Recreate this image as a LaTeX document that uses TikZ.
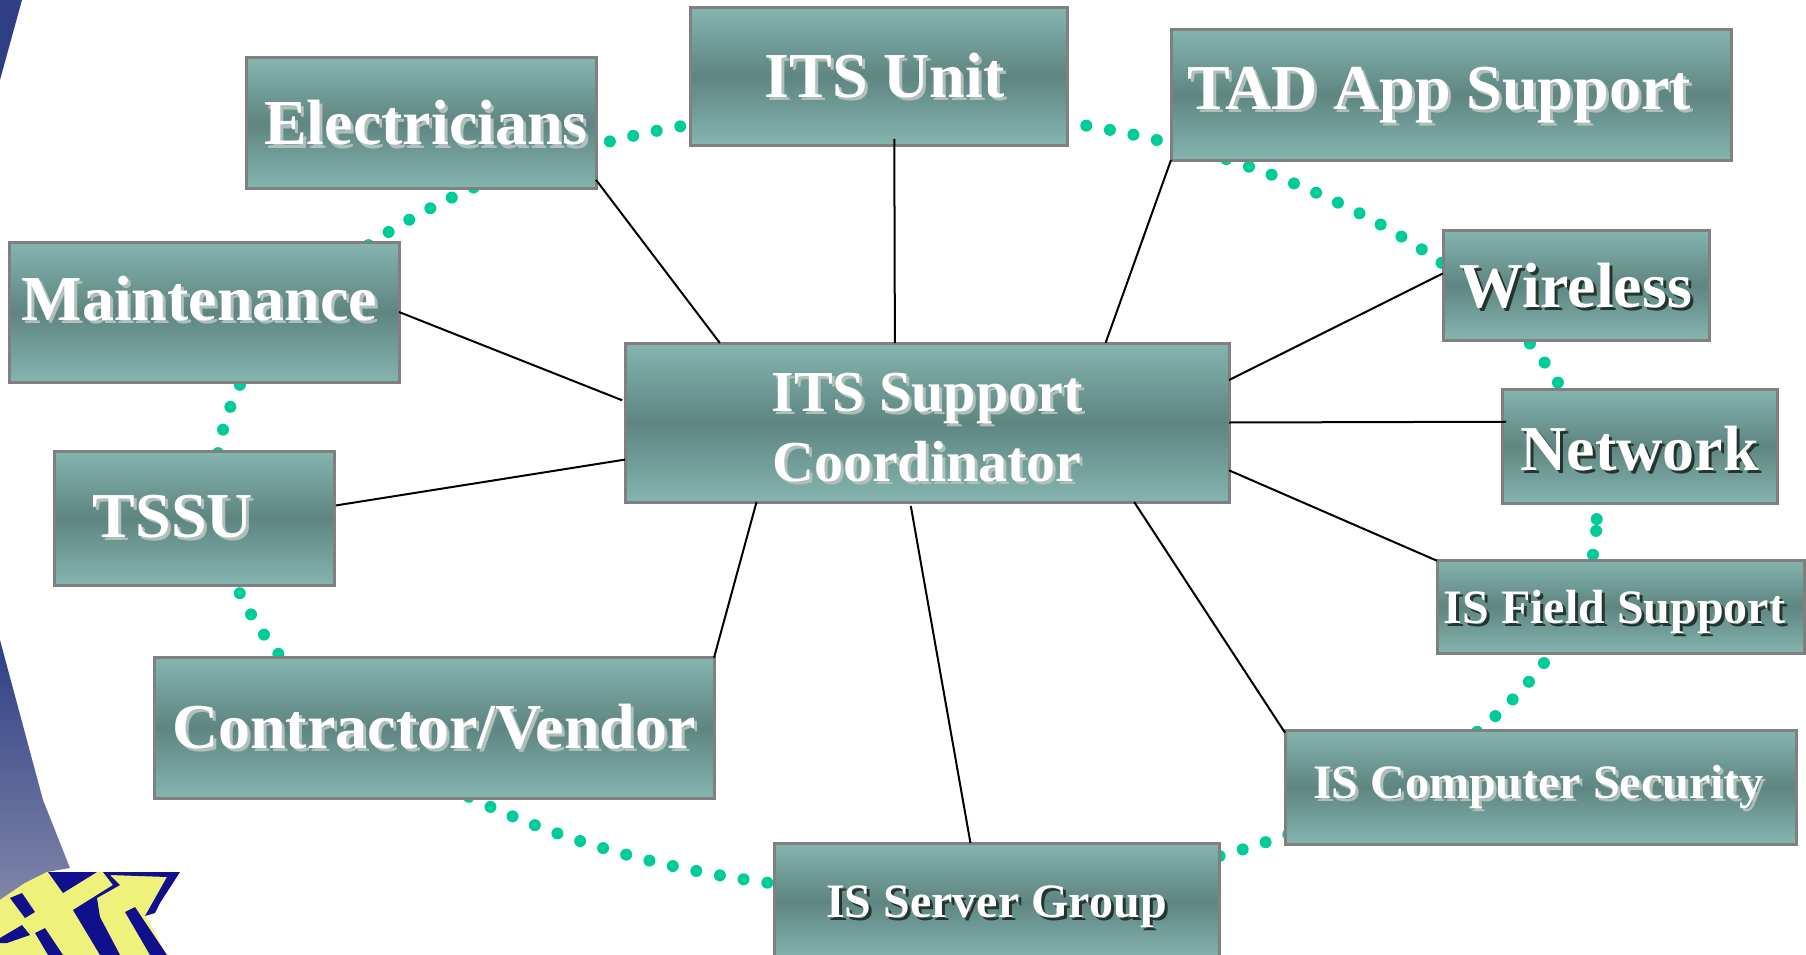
\documentclass[tikz,border=0pt]{standalone}
\usepackage{fontspec}
\setmainfont{Liberation Serif}
\usepackage{tikz}
\definecolor{boxlight}{HTML}{84B5AE}
\definecolor{boxdark}{HTML}{5F8581}
\definecolor{boxedge}{HTML}{808080}
\definecolor{ringgreen}{HTML}{00CC99}
\definecolor{swooshblue}{HTML}{2F3F85}
\definecolor{swooshmid}{HTML}{3F4D8F}
\definecolor{swooshgrey}{HTML}{7F86A8}
\definecolor{logoyellow}{HTML}{EFF27A}
\definecolor{logonavy}{HTML}{10108C}
\definecolor{shadowlight}{HTML}{AFC0BC}
\definecolor{shadowdark}{HTML}{24352F}
\newcommand{\shadowed}[2][shadowlight]{\leavevmode\rlap{\hspace{3pt}\raisebox{-3pt}{\textcolor{#1}{#2}}}#2}

\begin{document}
\begin{tikzpicture}[x=1pt,y=-1pt]
\tikzstyle{itsbox}=[rectangle, draw=boxedge, line width=3pt, outer sep=0pt, inner sep=0pt, top color=boxlight, bottom color=boxlight, middle color=boxdark, text=white, align=center]
\tikzstyle{bigtext}=[font=\fontsize{64}{70}\selectfont\bfseries]
\tikzstyle{midtext}=[font=\fontsize{58}{70}\selectfont\bfseries]
\tikzstyle{smalltext}=[font=\fontsize{48}{56}\selectfont\bfseries]
\tikzstyle{drop}=[text height=#1, text depth=0pt]
\tikzstyle{link}=[black, line width=2pt]
\tikzstyle{ring}=[ringgreen, line width=12pt, line cap=round, dash pattern=on 0pt off 24pt]
\tikzstyle{navy}=[fill=logonavy]
\useasboundingbox (0,0) rectangle (1806,955);

\fill[swooshblue] (0,0) -- (22,0) -- (0,80) -- cycle;
\shade[top color=swooshblue, middle color=swooshmid, bottom color=swooshgrey] (0,640) -- (43,800) -- (70,868) -- (47,872) -- (25,883) -- (0,900) -- cycle;
\fill[logoyellow] (0,900) -- (25,883) -- (47,872) -- (180,872) -- (145,915) -- (167,955) -- (0,955) -- cycle;
\fill[navy] (48,872) -- (97,872) -- (63,893) -- cycle;
\fill[navy] (103,872) -- (180,872) -- (160,903) -- (155,913) -- (145,916) -- (167,877) -- (110,875) -- (120,885) -- (97,898) -- (100,917) -- (120,955) -- (100,955) -- (73,910) -- (113,885) -- cycle;
\fill[navy] (125,912) -- (135,907) -- (167,955) -- (150,955) -- cycle;
\fill[navy] (10,898) -- (22,893) -- (35,912) -- (25,918) -- cycle;
\fill[navy] (0,938) -- (22,925) -- (30,935) -- (7,943) -- (0,943) -- cycle;
\fill[navy] (35,933) -- (45,928) -- (63,955) -- (48,955) -- cycle;

\draw[ring, rotate around={-1.5:(906,501)}] (906,501) ellipse [x radius=691pt, y radius=392pt];

\node (center) [itsbox, midtext, minimum width=604pt, minimum height=159pt] at (927,422.5) {\rule{0pt}{51pt}\shadowed{ITS Support}\\\shadowed{Coordinator}};
\node (elec) [itsbox, bigtext, drop=44pt, minimum width=350pt, minimum height=130pt] at (421,123) {\hspace*{10pt}\shadowed{Electricians}};
\node (unit) [itsbox, bigtext, drop=42pt, minimum width=377pt, minimum height=137pt] at (878.5,76.5) {\hspace*{12pt}\shadowed{ITS Unit}};
\node (tad) [itsbox, bigtext, drop=30pt, minimum width=560pt, minimum height=130pt] at (1451,95) {\hspace*{-24pt}\shadowed{TAD App Support}};
\node (wireless) [itsbox, bigtext, drop=44pt, minimum width=266pt, minimum height=110pt] at (1576,285) {\shadowed[shadowdark]{Wireless}};
\node (network) [itsbox, bigtext, drop=48pt, minimum width=275pt, minimum height=114pt] at (1639.5,446) {\shadowed[shadowdark]{Network}};
\node (field) [itsbox, smalltext, drop=33pt, minimum width=367pt, minimum height=93pt] at (1620.5,606.5) {\hspace*{-12pt}\shadowed[shadowdark]{IS Field Support}};
\node (security) [itsbox, smalltext, drop=22pt, minimum width=511pt, minimum height=114pt] at (1540.5,787) {\hspace*{-4pt}\shadowed{IS Computer Security}};
\node (server) [itsbox, smalltext, drop=31pt, minimum width=445pt, minimum height=117pt] at (996.5,901.5) {\shadowed[shadowdark]{IS Server Group}};
\node (vendor) [itsbox, bigtext, drop=42pt, minimum width=560pt, minimum height=141pt] at (434,727.5) {\shadowed{Contractor/Vendor}};
\node (tssu) [itsbox, bigtext, drop=38pt, minimum width=280pt, minimum height=134pt] at (194,518) {\hspace*{-42pt}\shadowed{TSSU}};
\node (maint) [itsbox, bigtext, drop=17pt, minimum width=390pt, minimum height=140pt] at (204,312) {\hspace*{-9pt}\shadowed{Maintenance}};

\draw[link] (elec.-18) -- (center.159.55);
\draw[link, shorten <=-6pt] (unit.-77.25) -- (center.112.5);
\draw[link] (tad.south west) -- (center.24.85);
\draw[link] (wireless.175.3) -- (center.8.3);
\draw[link, shorten <=-4pt] (network.170.5) -- (center.0.4);
\draw[link] (field.166.4) -- (center.-9.9);
\draw[link] (security.168.9) -- (center.-21.3);
\draw[link, shorten >=4pt] (server.114.4) -- (center.-102);
\draw[link] (vendor.14.7) -- (center.-155);
\draw[link, shorten <=2pt] (tssu.5.3) -- (center.187.1);
\draw[link, shorten >=3pt] (maint.0.6) -- (center.176.7);
\end{tikzpicture}
\end{document}
